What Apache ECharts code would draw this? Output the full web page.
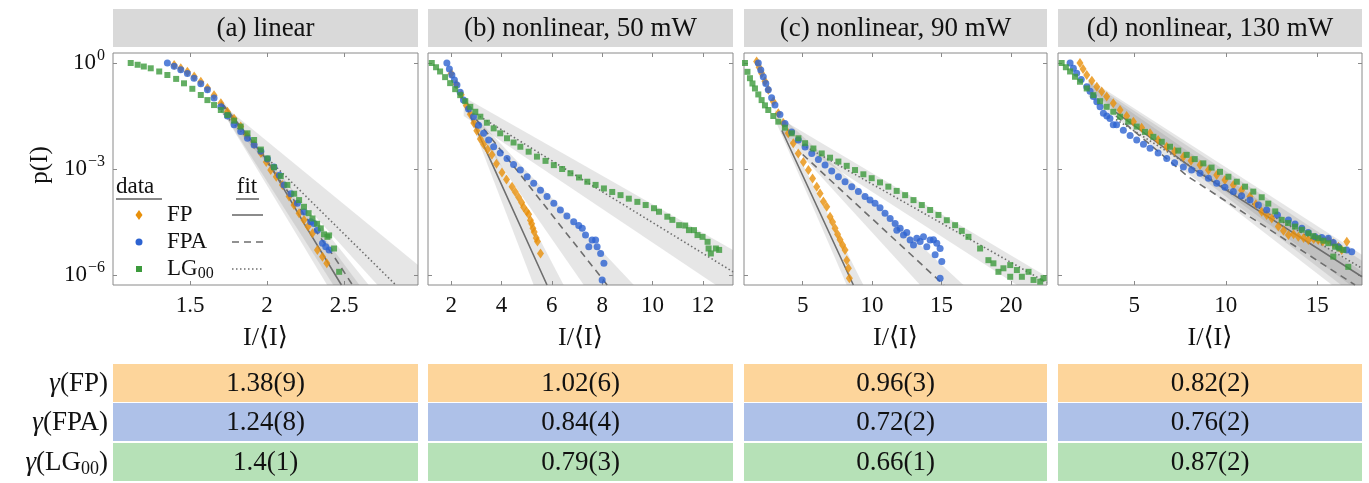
<!DOCTYPE html>
<html><head><meta charset="utf-8">
<script src="https://cdn.jsdelivr.net/npm/echarts@6/dist/echarts.min.js"></script>
<style>html,body{margin:0;padding:0;background:#fff}#c{width:1369px;height:483px}</style>
</head><body><div id="c"></div>
<script>
// ---------------- DATA (x = I/<I>, value = log10 p(I)) ----------------
const panelTitles = ['(a) linear', '(b) nonlinear, 50 mW', '(c) nonlinear, 90 mW', '(d) nonlinear, 130 mW'];
const xMin = [1.0, 1.08, 0.77, 0.83];
const xMax = [2.98, 13.2, 22.6, 17.44];
const xTicks = [[1.5, 2, 2.5], [2, 4, 6, 8, 10, 12], [5, 10, 15, 20], [5, 10, 15]];
const yTicks = [1e-6, 1e-3, 1];
const yLogMin = -6.283, yLogMax = 0.283;
const rowLabels = ['FP', 'FPA', 'LG'];
const gammaFP  = ['1.38(9)', '1.02(6)', '0.96(3)', '0.82(2)'];
const gammaFPA = ['1.24(8)', '0.84(4)', '0.72(2)', '0.76(2)'];
const gammaLG  = ['1.4(1)', '0.79(3)', '0.66(1)', '0.87(2)'];

// panel (a)
const fpA = [[1.397,-0.06],[1.44,-0.15],[1.483,-0.25],[1.527,-0.38],[1.57,-0.53],[1.613,-0.71],[1.656,-0.91],[1.70,-1.14],[1.743,-1.38],[1.786,-1.58],[1.829,-1.80],[1.87,-2.05],[1.916,-2.30],[1.96,-2.55],[1.995,-2.8],[2.024,-3.03],[2.06,-3.22],[2.10,-3.45],[2.143,-3.78],[2.175,-4.02],[2.208,-4.25],[2.24,-4.44],[2.266,-4.63],[2.295,-4.82],[2.327,-5.29],[2.36,-5.48],[2.388,-5.67]];
const fpaA = [[1.353,0],[1.397,-0.09],[1.44,-0.19],[1.483,-0.3],[1.526,-0.43],[1.57,-0.59],[1.613,-0.76],[1.656,-0.99],[1.70,-1.24],[1.743,-1.50],[1.786,-1.75],[1.829,-1.94],[1.873,-2.13],[1.916,-2.32],[1.96,-2.50],[2.003,-2.72],[2.045,-2.94],[2.08,-3.18],[2.11,-3.45],[2.155,-3.70],[2.197,-3.97],[2.24,-4.22],[2.284,-4.49],[2.305,-4.54],[2.327,-4.73],[2.36,-5.10],[2.381,-5.20],[2.403,-5.29]];
const lgA = [[1.115,0],[1.16,-0.05],[1.20,-0.10],[1.245,-0.15],[1.30,-0.24],[1.353,-0.34],[1.41,-0.45],[1.461,-0.575],[1.515,-0.73],[1.570,-0.906],[1.613,-1.05],[1.656,-1.19],[1.70,-1.33],[1.743,-1.47],[1.786,-1.63],[1.829,-1.80],[1.873,-1.99],[1.916,-2.18],[1.96,-2.45],[2.003,-2.70],[2.045,-2.95],[2.089,-3.20],[2.132,-3.45],[2.176,-3.70],[2.208,-3.88],[2.24,-4.07],[2.27,-4.25],[2.295,-4.40],[2.325,-4.55],[2.349,-4.68],[2.37,-4.85],[2.392,-4.92],[2.403,-4.88],[2.435,-5.25],[2.468,-5.91]];
const fitFpA = [[1.7,-1.1],[2.0,-2.75],[2.24,-4.54],[2.483,-6.283]];
const fitFpaA = [[1.7,-1.15],[2.0,-2.8],[2.25,-4.35],[2.435,-5.48],[2.555,-6.283]];
const fitLgA = [[1.7,-1.35],[1.959,-2.51],[2.836,-6.283]];
const bandFpA = [[1.7,-1.0],[2.60,-6.283],[2.39,-6.283],[1.7,-1.3]];
const bandFpaA = [[1.7,-1.05],[2.66,-6.283],[2.43,-6.283],[1.7,-1.3]];
const bandLgA = [[1.7,-1.14],[2.98,-5.72],[2.98,-6.283],[2.717,-6.283],[1.7,-1.4]];

// panel (b)
const fpB = [[2.0,-0.3],[2.2,-0.6],[2.4,-0.9],[2.6,-1.2],[2.76,-1.45],[2.9,-1.7],[3.02,-1.92],[3.16,-2.15],[3.29,-2.3],[3.45,-2.45],[3.62,-2.6],[3.8,-2.85],[4.02,-3.1],[4.2,-3.3],[4.42,-3.5],[4.55,-3.65],[4.68,-3.8],[4.8,-3.95],[4.88,-4.08],[5.0,-4.2],[5.08,-4.28],[5.15,-4.45],[5.2,-4.55],[5.25,-4.68],[5.3,-4.78],[5.38,-4.95],[5.43,-5.05],[5.55,-5.39]];
const fpaB = [[1.83,0],[1.93,-0.17],[2.03,-0.34],[2.13,-0.48],[2.23,-0.62],[2.36,-0.83],[2.49,-1.05],[2.69,-1.3],[2.89,-1.52],[3.09,-1.76],[3.29,-1.99],[3.49,-2.18],[3.69,-2.37],[3.95,-2.55],[4.22,-2.70],[4.48,-2.87],[4.75,-3.03],[5.02,-3.22],[5.28,-3.40],[5.55,-3.6],[5.81,-3.78],[6.08,-3.97],[6.34,-4.16],[6.6,-4.33],[6.87,-4.49],[7.07,-4.6],[7.21,-4.68],[7.34,-4.87],[7.47,-5.20],[7.60,-5.01],[7.74,-5.01],[7.80,-5.20],[7.94,-5.39],[8.07,-5.67],[8.00,-6.14]];
const lgB = [[1.23,0],[1.4,-0.12],[1.56,-0.24],[1.76,-0.4],[1.96,-0.57],[2.16,-0.74],[2.36,-0.91],[2.56,-1.08],[2.76,-1.24],[2.96,-1.38],[3.16,-1.52],[3.42,-1.69],[3.69,-1.85],[3.95,-1.99],[4.22,-2.13],[4.48,-2.25],[4.75,-2.37],[5.08,-2.51],[5.41,-2.65],[5.75,-2.77],[6.08,-2.89],[6.41,-3.0],[6.74,-3.12],[7.08,-3.24],[7.41,-3.36],[7.74,-3.45],[8.07,-3.55],[8.4,-3.65],[8.73,-3.74],[9.06,-3.84],[9.40,-3.93],[9.73,-4.02],[10.06,-4.11],[10.26,-4.21],[10.59,-4.35],[10.79,-4.44],[11.06,-4.59],[11.3,-4.6],[11.45,-4.73],[11.65,-4.73],[11.79,-4.87],[11.99,-4.92],[12.19,-5.06],[12.23,-5.25],[12.32,-5.39],[12.52,-5.25],[12.65,-5.29]];
const fitFpB = [[2.6,-1.24],[3.62,-2.84],[5.81,-6.283]];
const fitFpaB = [[3.0,-1.6],[4.55,-2.98],[8.20,-6.283]];
const fitLgB = [[3.0,-1.45],[6.81,-3.12],[13.2,-5.91]];
const bandFpB = [[2.6,-1.0],[6.47,-6.283],[5.28,-6.283],[2.6,-1.3]];
const bandFpaB = [[2.8,-1.4],[9.26,-6.283],[7.27,-6.283],[2.8,-1.7]];
const bandLgB = [[2.5,-0.96],[13.2,-5.29],[13.2,-6.283],[12.52,-6.283],[2.5,-1.5]];

// panel (c)
const fpC = [[1.68,0.04],[1.86,-0.12],[2.04,-0.29],[2.28,-0.52],[2.52,-0.76],[2.88,-1.09],[3.24,-1.42],[3.6,-1.7],[3.96,-1.99],[4.32,-2.27],[4.68,-2.56],[5.05,-2.8],[5.41,-3.03],[5.71,-3.27],[6.01,-3.50],[6.25,-3.69],[6.49,-3.92],[6.73,-4.07],[6.97,-4.35],[7.15,-4.5],[7.33,-4.68],[7.51,-4.85],[7.69,-5.0],[7.87,-5.15],[8.05,-5.29],[8.17,-5.58],[8.29,-5.81],[8.36,-6.09]];
const fpaC = [[1.80,0],[1.98,-0.2],[2.16,-0.39],[2.34,-0.58],[2.52,-0.76],[2.76,-0.98],[3.0,-1.19],[3.36,-1.46],[3.72,-1.71],[4.2,-1.95],[4.68,-2.18],[5.17,-2.38],[5.65,-2.56],[6.13,-2.73],[6.61,-2.89],[7.09,-3.06],[7.57,-3.22],[8.05,-3.36],[8.53,-3.50],[9.01,-3.64],[9.49,-3.78],[9.85,-3.88],[10.21,-3.97],[10.57,-4.1],[10.93,-4.25],[11.3,-4.4],[11.66,-4.54],[11.78,-4.73],[12.02,-4.68],[12.26,-4.87],[12.5,-4.8],[12.74,-5.01],[12.98,-5.15],[13.22,-4.96],[13.46,-5.05],[13.70,-4.92],[13.94,-5.20],[14.18,-5.01],[14.42,-5.0],[14.54,-5.43],[14.66,-5.10],[14.90,-5.25],[15.02,-5.62],[14.90,-6.09]];
const lgC = [[0.84,0],[1.02,-0.25],[1.20,-0.43],[1.38,-0.58],[1.56,-0.72],[1.8,-0.89],[2.04,-1.05],[2.28,-1.2],[2.52,-1.33],[2.88,-1.5],[3.24,-1.66],[3.72,-1.83],[4.21,-1.99],[4.69,-2.13],[5.17,-2.27],[5.77,-2.42],[6.37,-2.56],[6.97,-2.68],[7.57,-2.79],[8.17,-2.91],[8.77,-3.03],[9.37,-3.15],[9.97,-3.26],[10.57,-3.38],[11.17,-3.50],[11.77,-3.62],[12.38,-3.74],[12.98,-3.88],[13.58,-4.02],[14.18,-4.16],[14.78,-4.30],[15.38,-4.45],[15.98,-4.59],[16.46,-4.75],[16.94,-4.92],[17.78,-5.25],[18.38,-5.58],[18.74,-5.67],[19.10,-5.91],[19.46,-5.81],[19.95,-5.72],[19.95,-6.05],[20.43,-5.86],[20.79,-6.05],[21.27,-5.91],[21.63,-6.14],[22.11,-6.19],[22.35,-6.09]];
const fitFpC = [[3.5,-1.91],[5.04,-3.22],[8.65,-6.283]];
const fitFpaC = [[5.0,-2.59],[8.41,-3.83],[15.17,-6.283]];
const fitLgC = [[5.0,-2.32],[9.25,-3.26],[21.39,-5.95],[22.6,-6.22]];
const bandFpC = [[3.0,-1.3],[9.37,-6.283],[8.17,-6.283],[3.0,-1.6]];
const bandFpaC = [[3.5,-1.53],[16.58,-6.283],[13.46,-6.283],[3.5,-2.0]];
const bandLgC = [[3.5,-1.6],[22.6,-6.05],[22.6,-6.283],[20.43,-6.283],[3.5,-2.0]];

// panel (d)
const fpD = [[2.03,0],[2.2,-0.17],[2.40,-0.34],[2.68,-0.5],[2.95,-0.67],[3.22,-0.81],[3.49,-0.95],[3.85,-1.14],[4.22,-1.33],[4.58,-1.5],[4.95,-1.66],[5.4,-1.83],[5.86,-1.99],[6.3,-2.18],[6.77,-2.37],[7.2,-2.5],[7.68,-2.65],[8.1,-2.77],[8.59,-2.89],[9.05,-3.03],[9.50,-3.17],[9.95,-3.31],[10.41,-3.45],[10.86,-3.6],[11.32,-3.78],[11.64,-4.0],[11.96,-4.21],[12.23,-4.3],[12.51,-4.40],[12.87,-4.63],[13.15,-4.75],[13.42,-4.87],[13.7,-4.85],[13.96,-4.92],[14.25,-4.95],[14.51,-5.01],[14.8,-4.98],[15.05,-5.01],[15.3,-5.05],[15.60,-5.01],[15.87,-5.1],[16.15,-5.20],[16.33,-5.29],[16.61,-5.06]];
const fpaD = [[1.49,0],[1.67,-0.15],[1.85,-0.29],[2.1,-0.47],[2.40,-0.67],[2.58,-0.8],[2.76,-0.95],[2.95,-1.1],[3.13,-1.24],[3.31,-1.42],[3.5,-1.5],[3.67,-1.57],[3.85,-1.75],[4.03,-1.75],[4.40,-1.90],[4.77,-2.05],[5.13,-2.18],[5.5,-2.3],[5.86,-2.41],[6.3,-2.55],[6.77,-2.70],[7.2,-2.82],[7.68,-2.94],[8.13,-3.03],[8.59,-3.12],[9.05,-3.26],[9.50,-3.40],[9.95,-3.52],[10.41,-3.64],[10.86,-3.76],[11.32,-3.88],[11.78,-4.02],[12.23,-4.16],[12.82,-4.3],[13.42,-4.44],[13.78,-4.56],[14.15,-4.68],[14.5,-4.8],[14.87,-4.92],[15.24,-4.94],[15.60,-4.96],[15.87,-5.08],[16.15,-5.20],[16.6,-5.29],[16.88,-5.34]];
const lgD = [[1.03,0],[1.26,-0.12],[1.49,-0.24],[1.76,-0.39],[2.03,-0.53],[2.4,-0.72],[2.76,-0.91],[3.13,-1.08],[3.49,-1.24],[3.85,-1.38],[4.22,-1.52],[4.67,-1.66],[5.13,-1.80],[5.58,-1.95],[6.04,-2.09],[6.5,-2.23],[6.95,-2.37],[7.4,-2.48],[7.86,-2.60],[8.3,-2.72],[8.77,-2.84],[9.22,-2.96],[9.68,-3.08],[10.14,-3.22],[10.60,-3.36],[11.05,-3.5],[11.50,-3.64],[11.96,-3.8],[12.32,-3.98],[12.7,-4.2],[13.05,-4.44],[13.4,-4.53],[13.78,-4.63],[14.15,-4.72],[14.51,-4.82],[14.78,-4.9],[15.05,-4.96],[15.33,-5.03],[15.60,-5.10],[15.87,-5.48],[15.97,-5.20],[16.2,-5.25],[16.42,-5.29],[16.69,-5.77]];
const fitFpD = [[4.0,-1.4],[8.32,-3.03],[17.44,-6.05]];
const fitFpaD = [[4.0,-1.5],[7.95,-3.22],[17.06,-6.283]];
const fitLgD = [[4.0,-1.6],[10.0,-3.55],[17.44,-5.81]];
const bandFpD = [[2.5,-0.5],[17.44,-5.6],[17.44,-6.283],[16.3,-6.283],[2.5,-0.8]];
const bandFpaD = [[2.5,-0.55],[17.44,-5.9],[17.44,-6.283],[15.8,-6.283],[2.5,-0.95]];
const bandLgD = [[2.5,-0.45],[17.44,-5.43],[17.44,-6.283],[16.8,-6.283],[2.5,-0.75]];

// ---------------- STYLE / LAYOUT ----------------
const FONT = "'Liberation Serif','DejaVu Serif',serif";
const C_FP = '#e8900a', C_FPA = '#2d63d1', C_LG = '#3c9a3c';
const FIT_C = '#6e6e6e';
const BAND_C = 'rgba(120,120,120,0.19)';
const AX_C = '#8a8a8a';
const gridLeft = [113, 428, 744, 1058];
const gridWidth = [305, 305, 303, 304];
const gridTop = 53, gridHeight = 232;

const panels = [
  {fp: fpA, fpa: fpaA, lg: lgA, fits: [fitFpA, fitFpaA, fitLgA], bands: [bandFpA, bandFpaA, bandLgA]},
  {fp: fpB, fpa: fpaB, lg: lgB, fits: [fitFpB, fitFpaB, fitLgB], bands: [bandFpB, bandFpaB, bandLgB]},
  {fp: fpC, fpa: fpaC, lg: lgC, fits: [fitFpC, fitFpaC, fitLgC], bands: [bandFpC, bandFpaC, bandLgC]},
  {fp: fpD, fpa: fpaD, lg: lgD, fits: [fitFpD, fitFpaD, fitLgD], bands: [bandFpD, bandFpaD, bandLgD]}
];
const toP = arr => arr.map(d => [d[0], Math.pow(10, d[1])]);
const supMap = {'0': '0', '-3': '−3', '-6': '−6'};

const grids = [], xAxes = [], yAxes = [], series = [];
panels.forEach((p, i) => {
  grids.push({left: gridLeft[i], top: gridTop, width: gridWidth[i], height: gridHeight,
    show: true, borderColor: AX_C, borderWidth: 1, backgroundColor: 'transparent'});
  const tickStyle = {inside: true, length: 4, lineStyle: {color: AX_C, width: 1}};
  xAxes.push({type: 'value', gridIndex: i, min: xMin[i], max: xMax[i], position: 'bottom',
    axisLine: {show: false}, splitLine: {show: false},
    axisTick: Object.assign({customValues: xTicks[i]}, tickStyle),
    axisLabel: {customValues: xTicks[i], fontFamily: FONT, fontSize: 23, color: '#111', margin: 9},
    name: 'I/⟨I⟩', nameLocation: 'middle', nameGap: 40,
    nameTextStyle: {fontFamily: FONT, fontSize: 26, color: '#111'}});
  xAxes.push({type: 'value', gridIndex: i, min: xMin[i], max: xMax[i], position: 'top',
    axisLine: {show: false}, splitLine: {show: false},
    axisTick: Object.assign({customValues: xTicks[i]}, tickStyle), axisLabel: {show: false}});
  yAxes.push({type: 'log', logBase: 10, gridIndex: i, min: Math.pow(10, yLogMin), max: Math.pow(10, yLogMax),
    position: 'left', axisLine: {show: false}, splitLine: {show: false},
    axisTick: Object.assign({customValues: yTicks}, tickStyle),
    axisLabel: {show: i === 0, customValues: yTicks, margin: 8,
      formatter: v => '{b|10}{s|' + supMap[String(Math.round(Math.log10(v)))] + '}',
      rich: {b: {fontFamily: FONT, fontSize: 23, color: '#111'},
             s: {fontFamily: FONT, fontSize: 16, color: '#111', padding: [0, 0, 15, 1]}}}});
  yAxes.push({type: 'log', logBase: 10, gridIndex: i, min: Math.pow(10, yLogMin), max: Math.pow(10, yLogMax),
    position: 'right', axisLine: {show: false}, splitLine: {show: false},
    axisTick: Object.assign({customValues: yTicks}, tickStyle), axisLabel: {show: false}});
  const xi = 2 * i, yi = 2 * i;
  p.bands.forEach(b => {
    series.push({type: 'custom', xAxisIndex: xi, yAxisIndex: yi, silent: true, z: 1, data: [[b[0][0], Math.pow(10, b[0][1])]],
      renderItem: (params, api) => ({type: 'polygon',
        shape: {points: b.map(d => api.coord([d[0], Math.pow(10, d[1])]))},
        style: {fill: BAND_C}})});
  });
  const dashTypes = ['solid', [7, 5], [1.5, 2.5]];
  p.fits.forEach((f, k) => {
    series.push({type: 'line', xAxisIndex: xi, yAxisIndex: yi, data: toP(f), showSymbol: false, silent: true, z: 2,
      lineStyle: {color: FIT_C, width: 1.6, type: dashTypes[k]}});
  });
  series.push({type: 'scatter', xAxisIndex: xi, yAxisIndex: yi, data: toP(p.fp), symbol: 'diamond', symbolSize: [7, 10],
    itemStyle: {color: C_FP}, z: 3, silent: true});
  series.push({type: 'scatter', xAxisIndex: xi, yAxisIndex: yi, data: toP(p.fpa), symbol: 'circle', symbolSize: 7,
    itemStyle: {color: C_FPA}, z: 3, silent: true});
  series.push({type: 'scatter', xAxisIndex: xi, yAxisIndex: yi, data: toP(p.lg), symbol: 'rect', symbolSize: 6,
    itemStyle: {color: C_LG}, z: 3, silent: true});
});

// ---------------- GRAPHIC: titles, legend, table ----------------
const graphic = [];
panelTitles.forEach((t, i) => {
  graphic.push({type: 'rect', shape: {x: gridLeft[i], y: 9, width: gridWidth[i], height: 38}, style: {fill: '#d9d9d9'}, silent: true});
  graphic.push({type: 'text', x: gridLeft[i] + gridWidth[i] / 2, y: 29,
    style: {text: t, font: '27px ' + FONT, fill: '#111', align: 'center', verticalAlign: 'middle'}, silent: true});
});
graphic.push({type: 'text', x: 40, y: 165, rotation: Math.PI / 2,
  style: {text: 'p(I)', font: '25px ' + FONT, fill: '#111', align: 'center', verticalAlign: 'middle'}});
// legend inside panel (a)
graphic.push({type: 'text', x: 116, y: 187, style: {text: 'data', font: '23px ' + FONT, fill: '#111', align: 'left', verticalAlign: 'middle'}, z: 10});
graphic.push({type: 'line', shape: {x1: 116, y1: 199, x2: 162, y2: 199}, style: {stroke: '#111', lineWidth: 1}, z: 10});
graphic.push({type: 'text', x: 247, y: 187, style: {text: 'fit', font: '23px ' + FONT, fill: '#111', align: 'center', verticalAlign: 'middle'}, z: 10});
graphic.push({type: 'line', shape: {x1: 236, y1: 199, x2: 259, y2: 199}, style: {stroke: '#111', lineWidth: 1}, z: 10});
const legY = [215, 242, 269];
graphic.push({type: 'polygon', shape: {points: [[139, legY[0] - 5], [142.5, legY[0]], [139, legY[0] + 5], [135.5, legY[0]]]}, style: {fill: C_FP}, z: 10});
graphic.push({type: 'circle', shape: {cx: 139, cy: legY[1], r: 3.5}, style: {fill: C_FPA}, z: 10});
graphic.push({type: 'rect', shape: {x: 136, y: legY[2] - 3, width: 6, height: 6}, style: {fill: C_LG}, z: 10});
graphic.push({type: 'text', x: 167, y: legY[0], style: {text: 'FP', font: '23px ' + FONT, fill: '#111', verticalAlign: 'middle'}, z: 10});
graphic.push({type: 'text', x: 167, y: legY[1], style: {text: 'FPA', font: '23px ' + FONT, fill: '#111', verticalAlign: 'middle'}, z: 10});
graphic.push({type: 'text', x: 167, y: legY[2], style: {text: '{a|LG}{s|00}', verticalAlign: 'middle',
  rich: {a: {fontFamily: FONT, fontSize: 23, fill: '#111'}, s: {fontFamily: FONT, fontSize: 16, fill: '#111', padding: [10, 0, 0, 0]}}}, z: 10});
graphic.push({type: 'line', shape: {x1: 232, y1: legY[0], x2: 263, y2: legY[0]}, style: {stroke: FIT_C, lineWidth: 1.6}, z: 10});
graphic.push({type: 'line', shape: {x1: 232, y1: legY[1], x2: 263, y2: legY[1]}, style: {stroke: FIT_C, lineWidth: 1.6, lineDash: [7, 5]}, z: 10});
graphic.push({type: 'line', shape: {x1: 232, y1: legY[2], x2: 263, y2: legY[2]}, style: {stroke: FIT_C, lineWidth: 1.6, lineDash: [1.5, 2.5]}, z: 10});

// table
const rowTop = [364, 403, 443], rowH = 38;
const rowColors = ['#fdd59b', '#aec1e8', '#b6e1b7'];
const rowVals = [gammaFP, gammaFPA, gammaLG];
rowLabels.forEach((lab, r) => {
  const cy = rowTop[r] + rowH / 2 + 1;
  const txt = lab === 'LG' ? '{g|γ}{n|(LG}{s|00}{n|)}' : '{g|γ}{n|(' + lab + ')}';
  graphic.push({type: 'text', x: 108, y: cy, style: {text: txt, align: 'right', verticalAlign: 'middle',
    rich: {g: {fontFamily: FONT, fontSize: 27, fontStyle: 'italic', fill: '#111'},
           n: {fontFamily: FONT, fontSize: 27, fill: '#111'},
           s: {fontFamily: FONT, fontSize: 18, fill: '#111', padding: [12, 0, 0, 0]}}}});
  for (let i = 0; i < 4; i++) {
    graphic.push({type: 'rect', shape: {x: gridLeft[i], y: rowTop[r], width: gridWidth[i], height: rowH}, style: {fill: rowColors[r]}});
    graphic.push({type: 'text', x: gridLeft[i] + gridWidth[i] / 2, y: cy,
      style: {text: rowVals[r][i], font: '27px ' + FONT, fill: '#111', align: 'center', verticalAlign: 'middle'}});
  }
});

const chart = echarts.init(document.getElementById('c'), null, {renderer: 'canvas'});
chart.setOption({animation: false, backgroundColor: '#fff', grid: grids, xAxis: xAxes, yAxis: yAxes, series, graphic});
</script></body></html>
